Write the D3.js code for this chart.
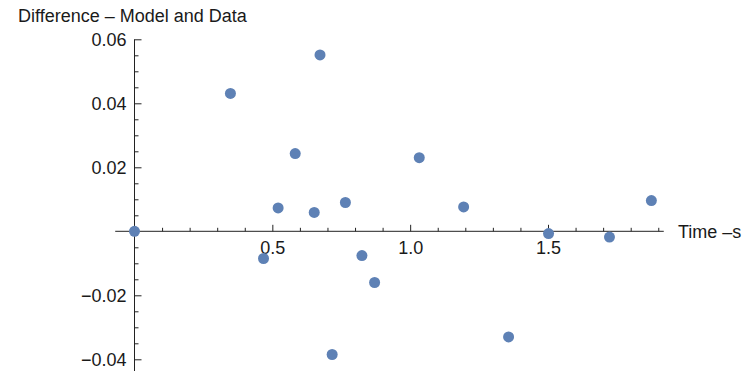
<!DOCTYPE html>
<html>
<head>
<meta charset="utf-8">
<script src="https://cdn.jsdelivr.net/npm/d3@7"></script>
<style>
  body { margin: 0; background: #fff; }
  text { font-family: "Liberation Sans", Arial, sans-serif; }
</style>
</head>
<body>
<div id="chart"></div>
<script>
// time (s) and model-minus-data difference
const times = [0, 0.348, 0.468, 0.521, 0.583, 0.652, 0.673, 0.717, 0.765, 0.825, 0.871, 1.033, 1.194, 1.357, 1.502, 1.723, 1.875]
const diffs = [0, 0.0431, -0.0085, 0.0073, 0.0243, 0.0059, 0.0551, -0.0385, 0.0090, -0.0076, -0.0160, 0.0230, 0.0076, -0.0330, -0.0007, -0.0018, 0.0096]

const xMajor = [0.5, 1.0, 1.5]
const yMajor = [-0.04, -0.02, 0.02, 0.04, 0.06]
const xRange = [-0.07, 1.92]
const yRange = [-0.0437, 0.06]

const title = 'Difference – Model and Data'
const xTitle = 'Time –s'

const width = 755
const height = 371

const svg = d3.select('#chart')
  .append('svg')
  .attr('width', width)
  .attr('height', height)

const xScale = d3.scaleLinear()
  .domain([0, 1.5])
  .range([134.5, 548])

const yScale = d3.scaleLinear()
  .domain([-0.04, 0.06])
  .range([359.3, 39.3])

const axisColor = '#222'
const textColor = '#1a1a1a'

// x axis (sits on y = 0)
const xMinor = d3.range(1, 20).map(i => i / 10).filter(v => !xMajor.some(m => Math.abs(m - v) < 1e-9))
const xAxisG = svg.append('g')
  .attr('transform', `translate(0, ${yScale(0)})`)

xAxisG.append('line')
  .attr('x1', xScale(xRange[0]))
  .attr('x2', xScale(xRange[1]))
  .attr('stroke', axisColor)

xAxisG.append('g')
  .call(d3.axisBottom(xScale).tickValues(xMinor).tickSize(-3.5).tickFormat(''))
xAxisG.append('g')
  .call(d3.axisBottom(xScale).tickValues(xMajor).tickSize(-6.5).tickPadding(10).tickFormat(d3.format('.1f')))
xAxisG.selectAll('.domain').remove()
xAxisG.selectAll('.tick line').attr('stroke', axisColor)
xAxisG.selectAll('.tick text')
  .attr('fill', textColor)
  .style('font-size', '18px')
  .style('font-family', '"Liberation Sans", Arial, sans-serif')

// y axis (sits on x = 0)
const yMinor = d3.range(-8, 13).map(i => i * 0.005).filter(v => Math.abs(v) > 1e-9 && !yMajor.some(m => Math.abs(m - v) < 1e-9))
const yAxisG = svg.append('g')
  .attr('transform', `translate(${xScale(0)}, 0)`)

yAxisG.append('line')
  .attr('y1', yScale(yRange[0]))
  .attr('y2', yScale(yRange[1]))
  .attr('stroke', axisColor)

yAxisG.append('g')
  .call(d3.axisLeft(yScale).tickValues(yMinor).tickSize(-4).tickFormat(''))
yAxisG.append('g')
  .call(d3.axisLeft(yScale).tickValues(yMajor).tickSize(-7).tickPadding(8)
    .tickFormat(d => d3.format('.2f')(d).replace('-', '\u2212')))
yAxisG.selectAll('.domain').remove()
yAxisG.selectAll('.tick line').attr('stroke', axisColor)
yAxisG.selectAll('.tick text')
  .attr('fill', textColor)
  .style('font-size', '18px')
  .style('font-family', '"Liberation Sans", Arial, sans-serif')

// titles
svg.append('text')
  .attr('x', 18)
  .attr('y', 22)
  .attr('fill', textColor)
  .style('font-size', '18px')
  .text(title)

svg.append('text')
  .attr('x', 678)
  .attr('y', yScale(0))
  .attr('dy', '0.35em')
  .attr('fill', textColor)
  .style('font-size', '18px')
  .text(xTitle)

// points
svg.append('g')
  .selectAll('circle')
  .data(times.map((t, i) => ({ t, d: diffs[i] })))
  .join('circle')
  .attr('cx', p => xScale(p.t))
  .attr('cy', p => yScale(p.d))
  .attr('r', 5.5)
  .attr('fill', '#5E81B5')
</script>
</body>
</html>
